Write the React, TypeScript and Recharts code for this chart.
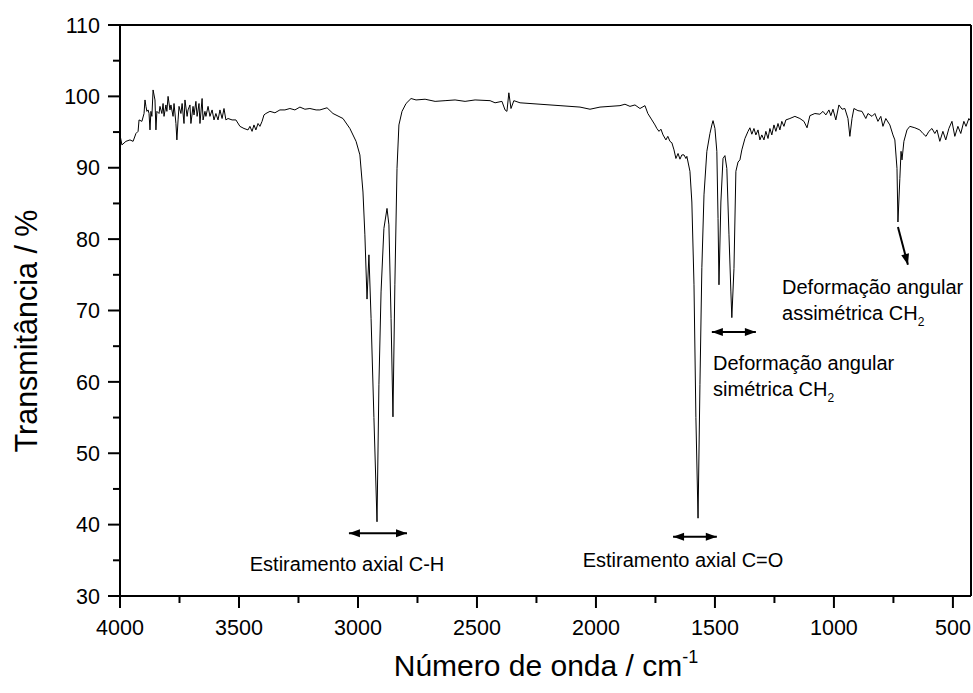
import React from 'react';
import { LineChart, Line, XAxis, YAxis, ReferenceLine, ReferenceDot, Label } from 'recharts';

// wavenumber (cm-1) and transmittance (%)
const wavenumbers = [
  4000, 3992, 3975, 3958, 3945, 3933, 3924, 3920, 3908, 3899, 3895, 3891, 3887, 3882, 3878, 3874,
  3870, 3866, 3861, 3853, 3849, 3845, 3836, 3832, 3824, 3819, 3815, 3807, 3803, 3798, 3790, 3786,
  3777, 3773, 3765, 3761, 3756, 3752, 3744, 3739, 3731, 3727, 3718, 3714, 3706, 3702, 3693, 3689,
  3681, 3676, 3668, 3664, 3655, 3651, 3643, 3639, 3630, 3622, 3613, 3605, 3597, 3588, 3580, 3571,
  3563, 3555, 3546, 3529, 3513, 3496, 3479, 3462, 3454, 3445, 3437, 3429, 3420, 3412, 3403, 3395,
  3387, 3370, 3349, 3328, 3307, 3286, 3265, 3244, 3223, 3202, 3176, 3160, 3130, 3105, 3063, 3034,
  3008, 2992, 2979, 2971, 2962, 2954, 2945, 2933, 2920, 2912, 2903, 2891, 2878, 2870, 2861, 2853,
  2845, 2836, 2828, 2815, 2798, 2777, 2756, 2718, 2676, 2634, 2592, 2550, 2508, 2445, 2424, 2395,
  2382, 2374, 2366, 2357, 2345, 2319, 2235, 2151, 2067, 2025, 1983, 1941, 1899, 1878, 1857, 1836,
  1815, 1794, 1782, 1765, 1752, 1744, 1735, 1727, 1718, 1706, 1698, 1689, 1681, 1672, 1664, 1655,
  1647, 1639, 1630, 1622, 1618, 1605, 1597, 1588, 1580, 1571, 1563, 1555, 1546, 1534, 1521, 1513,
  1508, 1500, 1492, 1487, 1483, 1475, 1466, 1458, 1450, 1441, 1433, 1429, 1420, 1412, 1403, 1395,
  1387, 1374, 1361, 1353, 1345, 1336, 1328, 1319, 1311, 1303, 1294, 1286, 1277, 1269, 1261, 1252,
  1244, 1235, 1227, 1219, 1210, 1202, 1185, 1164, 1143, 1126, 1113, 1101, 1080, 1059, 1046, 1034,
  1021, 1013, 1004, 992, 979, 966, 954, 941, 933, 924, 916, 899, 882, 866, 857, 840,
  828, 815, 803, 794, 782, 765, 752, 744, 735, 731, 723, 718, 714, 706, 693, 681,
  660, 639, 626, 613, 601, 588, 576, 567, 555, 542, 530, 517, 504, 492, 479, 467,
  454, 445, 433, 424,
];

const transmittance = [
  94.6, 93.2, 93.7, 93.9, 93.7, 94.8, 95.1, 96.7, 96.5, 97.6, 99.5, 98.6, 97.9, 98.1, 97.6, 95.3,
  97.9, 97.2, 100.9, 99.5, 95.3, 97.9, 97.6, 98.6, 97.6, 99.0, 97.2, 98.8, 97.9, 100.0, 98.1, 98.8,
  97.2, 99.0, 96.2, 93.9, 96.7, 98.6, 97.6, 99.0, 96.2, 99.5, 97.2, 98.1, 98.8, 96.2, 98.6, 97.4,
  99.3, 97.2, 99.0, 96.2, 99.7, 96.7, 97.9, 97.2, 98.6, 97.2, 98.1, 96.7, 97.6, 96.7, 98.1, 96.9,
  98.3, 96.7, 96.9, 96.7, 96.7, 95.8, 95.5, 95.3, 95.8, 95.1, 96.0, 95.3, 96.2, 95.8, 96.5, 97.4,
  97.6, 97.9, 97.7, 98.1, 98.1, 98.3, 98.1, 98.5, 98.2, 98.3, 98.1, 98.1, 98.4, 97.6, 96.9, 95.5,
  93.7, 91.8, 86.6, 80.6, 71.6, 77.8, 68.9, 55.0, 40.4, 59.6, 72.6, 81.5, 84.3, 82.0, 68.9, 55.1,
  73.6, 89.9, 96.0, 97.9, 99.0, 99.7, 99.5, 99.6, 99.3, 99.4, 99.5, 99.3, 99.5, 99.4, 99.1, 99.3,
  98.1, 97.9, 100.5, 98.3, 99.4, 99.1, 98.9, 98.7, 98.5, 98.2, 98.5, 98.6, 98.7, 98.9, 98.6, 98.8,
  98.3, 98.7, 97.6, 96.7, 96.0, 95.5, 95.1, 95.4, 94.6, 93.9, 94.4, 93.7, 93.5, 92.5, 91.3, 92.0,
  91.2, 91.8, 91.8, 91.3, 91.6, 89.5, 85.2, 73.6, 55.0, 40.9, 59.6, 76.0, 86.2, 92.3, 94.8, 96.0,
  96.6, 95.5, 92.3, 82.9, 73.6, 85.2, 91.3, 91.7, 89.9, 80.6, 72.6, 69.0, 75.9, 89.5, 90.8, 91.1,
  92.5, 94.1, 95.1, 95.6, 94.7, 95.5, 94.6, 95.3, 93.9, 94.6, 93.9, 95.1, 94.1, 95.5, 94.6, 96.0,
  95.1, 96.2, 95.3, 96.5, 95.8, 96.7, 96.9, 97.2, 96.9, 96.5, 95.6, 97.3, 97.6, 97.5, 97.9, 97.4,
  98.1, 97.3, 98.2, 96.7, 98.8, 98.2, 98.3, 96.9, 94.4, 96.9, 98.3, 98.0, 97.9, 96.9, 97.6, 97.2,
  97.6, 96.5, 97.2, 95.8, 96.9, 96.0, 94.6, 93.9, 89.9, 82.4, 88.5, 92.3, 91.1, 93.7, 95.3, 95.8,
  95.6, 95.3, 94.8, 94.4, 95.1, 95.5, 94.8, 95.3, 93.7, 95.1, 93.9, 95.5, 96.5, 94.4, 95.8, 94.8,
  96.5, 95.8, 96.9, 96.5,
];

const xTicks = [4000, 3750, 3500, 3250, 3000, 2750, 2500, 2250, 2000, 1750, 1500, 1250, 1000, 750, 500];
const yTicks = [30, 35, 40, 45, 50, 55, 60, 65, 70, 75, 80, 85, 90, 95, 100, 105, 110];

const spectrum = wavenumbers.map((wn, i) => ({ wn, t: transmittance[i] }));

const FONT = '"Liberation Sans", Arial, sans-serif';

const XTick = (props: any) => {
  const { x, y, payload } = props;
  const major = payload.value % 500 === 0;
  return (
    <g>
      <line x1={x} y1={y} x2={x} y2={y + (major ? 12 : 7)} stroke="#000" strokeWidth={2} />
      {major && (
        <text x={x} y={y + 39} textAnchor="middle" fontSize={21.5} fontFamily={FONT} fill="#000">
          {payload.value}
        </text>
      )}
    </g>
  );
};

const YTick = (props: any) => {
  const { x, y, payload } = props;
  const major = payload.value % 10 === 0;
  return (
    <g>
      <line x1={x} y1={y} x2={x - (major ? 12 : 7)} y2={y} stroke="#000" strokeWidth={2} />
      {major && (
        <text x={x - 20} y={y} dy="0.36em" textAnchor="end" fontSize={21.5} fontFamily={FONT} fill="#000">
          {payload.value}
        </text>
      )}
    </g>
  );
};

const arrowShape = (both: boolean) => (p: any) => {
  const { x1, y1, x2, y2 } = p;
  const ang = Math.atan2(y2 - y1, x2 - x1);
  const head = (hx: number, hy: number, a: number) => {
    const l = 11;
    const w = 4;
    const bx = hx - l * Math.cos(a);
    const by = hy - l * Math.sin(a);
    return `${hx},${hy} ${bx - w * Math.sin(a)},${by + w * Math.cos(a)} ${bx + w * Math.sin(a)},${by - w * Math.cos(a)}`;
  };
  return (
    <g>
      <line x1={x1} y1={y1} x2={x2} y2={y2} stroke="#000" strokeWidth={2} />
      <polygon points={head(x2, y2, ang)} fill="#000" />
      {both && <polygon points={head(x1, y1, ang + Math.PI)} fill="#000" />}
    </g>
  );
};

const note = (lines: string[], anchor: 'start' | 'middle', sub = false) => (p: any) => (
  <text x={p.cx} y={p.cy} textAnchor={anchor} fontSize={20} fontFamily={FONT} fill="#000">
    {lines.map((ln, i) => (
      <tspan key={i} x={p.cx} dy={i === 0 ? 0 : 26}>
        {ln}
        {sub && i === lines.length - 1 && <tspan dy={6} fontSize={12}>2</tspan>}
      </tspan>
    ))}
  </text>
);

const App: React.FC = () => {
  return (
    <div style={{ position: 'absolute', left: 0, top: 0, background: '#fff' }}>
      <LineChart width={973} height={693} data={spectrum} margin={{ top: 25, right: 2, left: 0, bottom: 0 }}>
        <XAxis
          dataKey="wn"
          type="number"
          domain={[424, 4000]}
          reversed
          allowDataOverflow
          ticks={xTicks}
          interval={0}
          tickSize={0}
          tickMargin={0}
          tick={<XTick />}
          tickLine={false}
          axisLine={{ stroke: '#000', strokeWidth: 2 }}
          height={97}
        >
          <Label
            content={() => (
              <text x={546} y={676} textAnchor="middle" fontSize={30} fontFamily={FONT} fill="#000">
                Número de onda / cm
                <tspan dy={-13} fontSize={18}>-1</tspan>
              </text>
            )}
          />
        </XAxis>
        <YAxis
          type="number"
          domain={[30, 110]}
          ticks={yTicks}
          interval={0}
          tickSize={0}
          tickMargin={0}
          tick={<YTick />}
          tickLine={false}
          axisLine={{ stroke: '#000', strokeWidth: 2 }}
          width={120}
        >
          <Label
            content={() => (
              <text
                x={37}
                y={331}
                transform="rotate(-90 37 331)"
                textAnchor="middle"
                fontSize={30.5}
                fontFamily={FONT}
                fill="#000"
              >
                Transmitância / %
              </text>
            )}
          />
        </YAxis>
        <ReferenceLine y={110} stroke="#000" strokeWidth={2} />
        <ReferenceLine x={424} stroke="#000" strokeWidth={2} />
        <Line
          dataKey="t"
          type="linear"
          stroke="#000"
          strokeWidth={1}
          dot={false}
          isAnimationActive={false}
        />
        <ReferenceLine segment={[{ x: 3038, y: 38.8 }, { x: 2794, y: 38.8 }]} shape={arrowShape(true)} />
        <ReferenceLine segment={[{ x: 1676, y: 38.3 }, { x: 1492, y: 38.3 }]} shape={arrowShape(true)} />
        <ReferenceLine segment={[{ x: 1513, y: 67.0 }, { x: 1328, y: 67.0 }]} shape={arrowShape(true)} />
        <ReferenceLine segment={[{ x: 731, y: 81.7 }, { x: 689, y: 76.4 }]} shape={arrowShape(false)} />
        <ReferenceDot x={3046} y={33.5} r={0} shape={note(['Estiramento axial C-H'], 'middle')} />
        <ReferenceDot x={1634} y={34.1} r={0} shape={note(['Estiramento axial C=O'], 'middle')} />
        <ReferenceDot x={1508} y={61.7} r={0} shape={note(['Deformação angular', 'simétrica CH'], 'start', true)} />
        <ReferenceDot x={1218} y={72.3} r={0} shape={note(['Deformação angular', 'assimétrica CH'], 'start', true)} />
      </LineChart>
    </div>
  );
};

export default App;
